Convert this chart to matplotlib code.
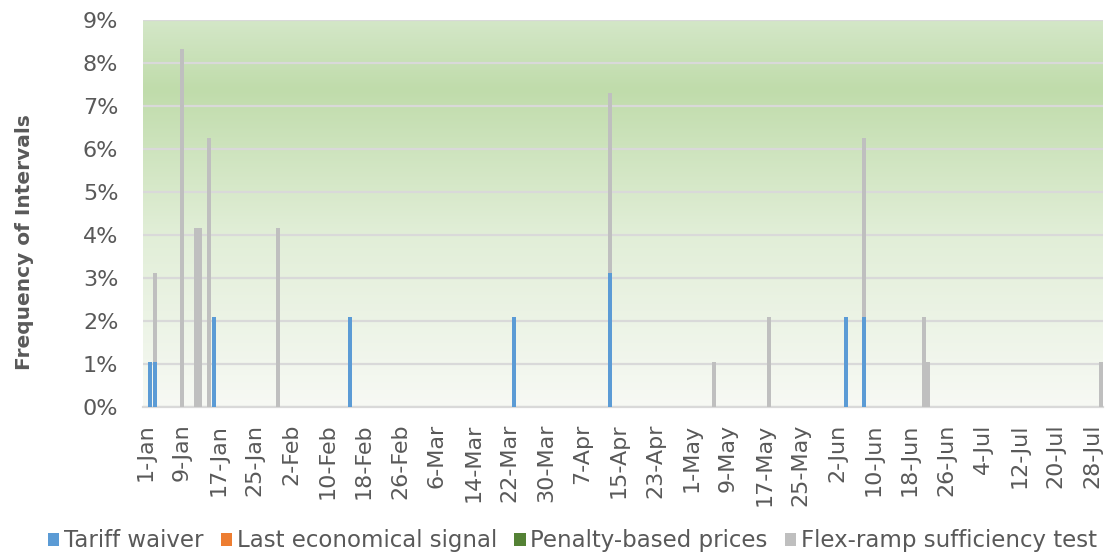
import numpy as np
import pandas as pd
import matplotlib
matplotlib.use("Agg")
import matplotlib.pyplot as plt
from matplotlib.colors import LinearSegmentedColormap
from matplotlib.patches import Patch

# Daily categories, 1-Jan to 30-Jul
days = pd.date_range("2021-01-01", "2021-07-30", freq="D")

# Days with failures (others are zero); counts are 15-min intervals out of 96
event_days = ["2021-01-02", "2021-01-03", "2021-01-09", "2021-01-12", "2021-01-13",
              "2021-01-15", "2021-01-16", "2021-01-30", "2021-02-15", "2021-03-23",
              "2021-04-13", "2021-05-06", "2021-05-18", "2021-06-04", "2021-06-08",
              "2021-06-21", "2021-06-22", "2021-07-30"]
tariff_waiver = [1, 1, 0, 0, 0, 0, 2, 0, 2, 2, 3, 0, 0, 2, 2, 0, 0, 0]
last_signal = [0] * len(event_days)
penalty_prices = [0] * len(event_days)
flex_ramp = [0, 2, 8, 4, 4, 6, 0, 4, 0, 0, 4, 1, 2, 0, 4, 2, 1, 1]

series_names = ["Tariff waiver", "Last economical signal",
                "Penalty-based prices", "Flex-ramp sufficiency test"]
colors = ["#5B9BD5", "#ED7D31", "#548235", "#BFBFBF"]

# expand to full daily series (fraction of intervals)
idx = pd.to_datetime(event_days)
series = []
for vals in [tariff_waiver, last_signal, penalty_prices, flex_ramp]:
    s = pd.Series(0.0, index=days)
    s.loc[idx] = np.array(vals) / 96.0
    series.append(s.values)

x = np.arange(len(days))

fig = plt.figure(figsize=(11.07, 5.54), dpi=100)
ax = fig.add_axes([0.1295, 0.2653, 0.8672, 0.6987])

# gradient background
grad_cmap = LinearSegmentedColormap.from_list(
    "bg", [(0.0, (247/255, 249/255, 244/255)),
           (0.45, (225/255, 238/255, 215/255)),
           (0.82, (192/255, 220/255, 171/255)),
           (1.0, (212/255, 231/255, 200/255))])
grad = np.linspace(0, 1, 256).reshape(-1, 1)
ax.imshow(grad, cmap=grad_cmap, origin="lower", extent=[0, 1, 0, 1],
          transform=ax.transAxes, aspect="auto", zorder=0)

bottom = np.zeros(len(days))
for s, c in zip(series, colors):
    ax.bar(x, s, width=0.88, bottom=bottom, color=c, zorder=3, linewidth=0)
    bottom += s

ax.set_xlim(-0.5, len(days) - 0.5)
ax.set_ylim(0, 0.09)
ax.set_yticks(np.arange(0, 0.091, 0.01))
ax.set_yticklabels([f"{i}%" for i in range(10)])
ax.yaxis.grid(True, color="#D9D9D9", linewidth=1.6, zorder=1)
ax.set_axisbelow(True)

tick_pos = x[::8]
ax.set_xticks(tick_pos)
ax.set_xticklabels([f"{d.day}-{d.strftime('%b')}" for d in days[::8]], rotation=90)

for sp in ["top", "right", "left"]:
    ax.spines[sp].set_visible(False)
ax.spines["bottom"].set_color("#D9D9D9")
ax.spines["bottom"].set_linewidth(1.6)
ax.tick_params(axis="both", length=0, labelsize=16, colors="#595959")
ax.tick_params(axis="y", pad=18)
ax.tick_params(axis="x", pad=12)

ax.set_ylabel("Frequency of Intervals", fontsize=14.5, fontweight="bold",
              color="#595959")
ax.yaxis.set_label_coords(-0.114, 0.426)

handles = [Patch(facecolor=c, label=n) for n, c in zip(series_names, colors)]
fig.legend(handles=handles, loc="center", ncol=4, frameon=False,
           fontsize=16.5, bbox_to_anchor=(0.517, 0.024), handlelength=0.5,
           handleheight=0.5, handletextpad=0.2, columnspacing=0.75,
           labelcolor="#595959", borderpad=0)

fig.savefig("out.png", dpi=100)
